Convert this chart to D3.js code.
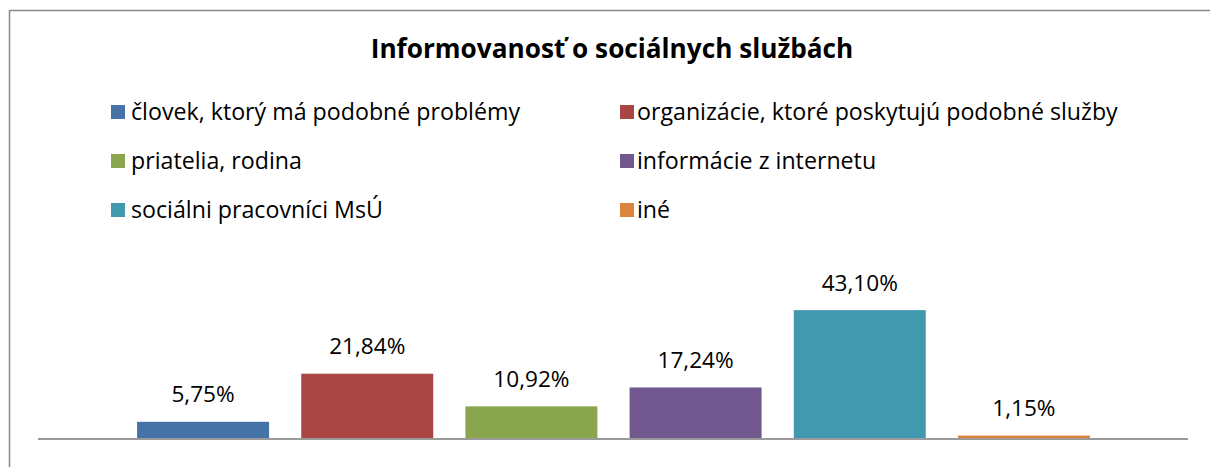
<!DOCTYPE html>
<html>
<head>
<meta charset="utf-8">
<script src="https://cdn.jsdelivr.net/npm/d3@7"></script>
<style>
  body { margin: 0; background: #fff; }
  text { font-family: "Open Sans", sans-serif; fill: #000; }
</style>
</head>
<body>
<svg width="1210" height="467"></svg>
<script>
var categories = ["človek, ktorý má podobné problémy", "organizácie, ktoré poskytujú podobné služby",
                  "priatelia, rodina", "informácie z internetu", "sociálni pracovníci MsÚ", "iné"];
var values = [5.75, 21.84, 10.92, 17.24, 43.10, 1.15];
var labels = ["5,75%", "21,84%", "10,92%", "17,24%", "43,10%", "1,15%"];
var colors = ["#4572A7", "#AA4643", "#89A54E", "#71588F", "#4198AF", "#DB843D"];
var title = "Informovanosť o sociálnych službách";

var svg = d3.select("svg"),
    width = +svg.attr("width"),
    height = +svg.attr("height");

// chart frame (right and bottom edges fall outside the picture)
svg.append("rect")
    .attr("x", 9.5).attr("y", 10.5)
    .attr("width", 1220).attr("height", 480)
    .attr("fill", "#fff")
    .attr("stroke", "#898989")
    .attr("stroke-width", 1.5);

svg.append("text")
    .attr("x", 612).attr("y", 58)
    .attr("text-anchor", "middle")
    .attr("font-size", 26.2)
    .attr("font-weight", "bold")
    .text(title);

// legend: two columns, three rows
var legend = svg.selectAll(".legend")
    .data(categories)
    .enter()
    .append("g")
      .attr("class", "legend")
      .attr("transform", function (d, i) {
          return "translate(" + (i % 2 == 0 ? 111 : 620) + "," + (120 + Math.floor(i / 2) * 49) + ")";
      });

legend.append("rect")
    .attr("x", 0).attr("y", -15)
    .attr("width", 14).attr("height", 14)
    .attr("fill", function (d, i) { return colors[i]; });

legend.append("text")
    .attr("x", function (d, i) { return i % 2 == 0 ? 20 : 17; })
    .attr("y", 0)
    .attr("font-size", 23.2)
    .text(function (d) { return d; });

var x = d3.scaleBand()
    .domain(categories)
    .range([121, 1106])
    .paddingInner(0.196)
    .paddingOuter(0.098);

var y = d3.scaleLinear()
    .domain([0, 50])
    .range([439, 289.5]);

svg.selectAll(".bar")
    .data(values)
    .enter()
    .append("rect")
      .attr("class", "bar")
      .attr("x", function (d, i) { return x(categories[i]); })
      .attr("y", function (d) { return y(d); })
      .attr("width", x.bandwidth())
      .attr("height", function (d) { return y(0) - y(d); })
      .attr("fill", function (d, i) { return colors[i]; });

svg.selectAll(".label")
    .data(values)
    .enter()
    .append("text")
      .attr("class", "label")
      .attr("x", function (d, i) { return x(categories[i]) + x.bandwidth() / 2; })
      .attr("y", function (d) { return y(d) - 19.5; })
      .attr("text-anchor", "middle")
      .attr("font-size", 22.6)
      .text(function (d, i) { return labels[i]; });

// category axis: just the baseline, no ticks or labels
var axis = svg.append("g")
    .attr("transform", "translate(0," + y(0) + ")")
    .call(d3.axisBottom(x).tickSize(0).tickFormat(""));
axis.select(".domain")
    .attr("d", "M38,0H1188")
    .attr("stroke", "#9a9a9a")
    .attr("stroke-width", 2);
</script>
</body>
</html>
